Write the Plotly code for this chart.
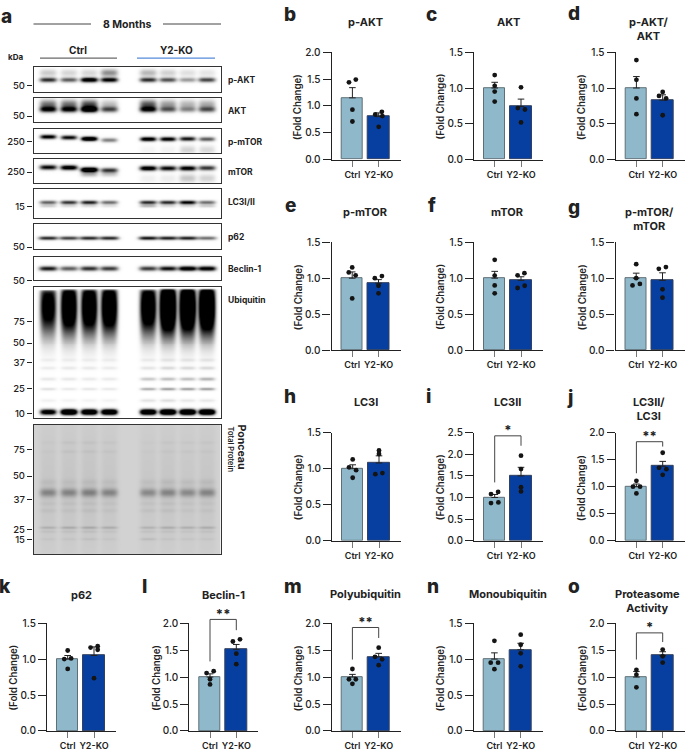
import numpy as np
import plotly.graph_objects as go

W, H = 685, 753
FONT = "Inter"
INK = "#222222"

# ---------- bar chart data ----------
categories = ["Ctrl", "Y2-KO"]
panel_titles = ["p-AKT", "AKT", "p-AKT/<br>AKT", "p-mTOR", "mTOR", "p-mTOR/<br>mTOR", "LC3I", "LC3II",
                "LC3II/<br>LC3I", "p62", "Beclin-1", "Polyubiquitin", "Monoubiquitin", "Proteasome<br>Activity"]
y_max = [2.0, 1.5, 1.5, 1.5, 1.5, 1.5, 1.5, 2.5, 2.0, 1.5, 2.0, 2.0, 1.5, 2.0]
ctrl_mean = [1.15, 1.0, 1.0, 1.0, 1.0, 1.0, 1.0, 1.0, 1.0, 1.0, 1.0, 1.0, 1.0, 1.0]
ko_mean = [0.80, 0.74, 0.83, 0.93, 0.97, 0.97, 1.08, 1.50, 1.38, 1.05, 1.51, 1.375, 1.13, 1.40]
ctrl_sem = [0.19, 0.08, 0.16, 0.087, 0.095, 0.07, 0.055, 0.07, 0.05, 0.05, 0.06, 0.05, 0.087, 0.105]
ko_sem = [0.07, 0.105, 0.075, 0.05, 0.05, 0.105, 0.10, 0.20, 0.09, 0.12, 0.095, 0.065, 0.09, 0.07]
ctrl_points = [[1.44, 1.49, 0.93, 0.71], [1.18, 1.03, 0.95, 0.81], [1.39, 1.115, 0.855, 0.635],
               [1.15, 1.08, 1.04, 0.72], [1.255, 1.036, 0.90, 0.79], [1.195, 1.0, 0.90, 0.92],
               [1.13, 1.02, 0.98, 0.875], [1.08, 1.13, 0.87, 0.885], [1.11, 1.0, 1.0, 0.875],
               [1.12, 1.0, 1.01, 0.863], [1.075, 1.11, 0.96, 0.863], [1.15, 0.96, 0.96, 0.875],
               [1.255, 0.95, 0.95, 0.86], [1.135, 1.045, 0.81]]
ctrl_jitter = [[-.13, .13, 0, 0], [0, 0, 0, 0], [0, 0, 0, 0],
               [0, -.13, .13, 0], [0, 0, 0, 0], [0, 0, -.14, .14],
               [0, -.14, .13, 0], [-.14, .13, -.14, .14], [0, -.13, .14, 0],
               [0, -.13, .13, 0], [-.13, .14, 0, 0], [0, -.13, .13, 0],
               [0, -.14, .14, 0], [0, 0, 0]]
ko_points = [[0.84, 0.89, 0.81, 0.61], [1.01, 0.72, 0.70, 0.52], [0.945, 0.89, 0.855, 0.62],
             [1.0, 1.03, 0.895, 0.79], [1.04, 1.07, 0.864, 0.895], [1.13, 1.155, 0.845, 0.73],
             [1.255, 1.205, 0.925, 0.94], [1.97, 1.66, 1.24, 1.14], [1.63, 1.35, 1.325, 1.22],
             [1.16, 1.18, 1.13, 0.735], [1.66, 1.70, 1.435, 1.24], [1.545, 1.375, 1.33, 1.22],
             [1.34, 1.20, 1.08, 0.90], [1.51, 1.385, 1.27]]
ko_jitter = [[-.13, .12, .14, 0], [0, -.12, .15, 0], [0, -.14, .13, 0],
             [-.14, .13, 0, 0], [-.13, .13, -.13, .14], [-.14, .13, 0, 0],
             [0, 0, -.14, .13], [0, 0, 0, 0], [0, -.14, .14, 0],
             [-.13, .14, .14, 0], [-.13, .14, 0, 0], [0, -.14, .13, 0],
             [0, 0, 0, 0], [0, 0, 0]]
# significance: panel index -> left start, top, right end, star height, label
sig_panel = [7, 8, 10, 11, 13]
sig_left = [1.35, 1.25, 1.29, 1.325, 1.325]
sig_top = [2.43, 1.835, 2.07, 1.92, 1.82]
sig_right = [2.20, 1.745, 1.87, 1.725, 1.65]
sig_star = [2.53, 1.90, 2.13, 1.99, 1.89]
sig_text = ["*", "**", "**", "**", "*"]

# ---------- blot data: band rows (darkness per lane) ----------
blot_names = ["p-AKT", "AKT", "p-mTOR", "mTOR", "LC3I/II", "p62", "Beclin-1", "Ubiquitin", "Ponceau"]
mw_labels = [["50"], ["50"], ["250"], ["250"], ["15"], ["50"], ["50"],
             ["75", "50", "37", "25", "10"], ["75", "50", "37", "25", "15"]]
lanes = [47.3, 68, 88.3, 108.3, 147.3, 167, 186.7, 206]

pakt = [(74, 1.6, [.85, .65, 1.3, 1.1, .85, .7, .4, .75]),
        (67, 2.6, [.2, .16, .16, .45, .28, .18, .12, .1])]
akt = [(104, 2.0, [1.0, 1.0, 1.4, .7, 1.0, .6, .42, .65]),
       (99, 3.2, [.55, .55, .7, .25, .65, .38, .28, .32])]
pmtor = [([132, 132.7, 134, 135.3, 134.3, 134.3, 134, 134.3], 1.5, [1.1, 1.0, 1.5, .5, 1.2, 1.1, .95, .65]),
         (145, 3, [0, 0, 0, 0, .04, .05, .17, .15])]
mtor = [([163, 163.3, 165.5, 166, 164, 164, 164, 163.7], 1.7, [1.0, 1.2, 1.6, .8, 1.2, 1.0, 1.1, .8]),
        (170, 1.8, [0, 0, .3, .2, 0, 0, 0, 0]),
        (174, 3, [0, 0, 0, 0, .06, .07, .22, .17])]
lc3 = [(198.7, 1.3, [.65, .85, .95, .6, .9, .9, 1.1, .6]),
       (202.3, 1.0, [.2, .15, .15, .12, .3, .15, .15, .2])]
p62 = [(235, 1.2, [.9, .8, .9, .9, 1.0, .95, .95, .6])]
beclin = [(266, 1.6, [.95, .65, .85, .8, .8, 1.0, 1.3, 1.2])]
ubi = [(305, 19, [1.25, 1.6, 1.55, 1.6, 1.5, 2.1, 2.0, 2.0]),
       (283, 2.5, [-4, -3, -3, -3, -3, -3, -3, -3]),
       (359, 1.2, [.05, .05, .05, .05, .06, .08, .08, .08]),
       (367, 1.2, [.07, .08, .08, .07, .1, .14, .14, .14]),
       (378, 1.2, [.09, .09, .08, .08, .22, .25, .25, .3]),
       (388, 1.0, [.12, .09, .1, .09, .32, .38, .38, .38]),
       (400, 1.5, [.06, .05, .05, .05, .12, .14, .1, .1]),
       (412, 1.9, [1.3, 2.0, 1.8, 1.8, 1.8, 2.0, 2.0, 2.0])]
ponceau = [(494, 3.0, [.8, .8, .85, .8, .75, .8, .75, .8]),
           (490, 50, [.14, .15, .16, .14, .12, .14, .12, .14]),
           (443, 1.2, [.04, .09, .09, .07, .03, .06, .06, .06]),
           (452, 1.2, [.04, .09, .09, .07, .03, .06, .06, .06]),
           (483, 2.5, [.14, .12, .14, .12, .12, .16, .14, .16]),
           (505, 1.5, [.09, .09, .1, .08, .09, .1, .08, .08]),
           (512, 1.5, [.1, .09, .11, .08, .1, .11, .08, .08]),
           (529, 1.0, [.3, .36, .38, .34, .28, .34, .32, .34]),
           (533, 1.0, [.12, .12, .14, .1, .12, .12, .1, .12]),
           (541, 1.2, [.1, .11, .16, .1, .24, .12, .11, .1])]


def px(x):
    return x / W


def py(y):
    return 1 - y / H


fig = go.Figure()
layout = {}
ann = []


def text(x, y, s, size=9.5, weight=600, angle=0, color=INK, anchor="center"):
    ann.append(dict(x=px(x), y=py(y), xref="paper", yref="paper", text=s, showarrow=False, textangle=angle,
                    xanchor=anchor, yanchor="middle", align="center",
                    font=dict(family=FONT, size=size, color=color, weight=weight)))


def line(x0, x1, y, color, width=1):
    layout.setdefault("shapes", []).append(dict(type="line", xref="paper", yref="paper", x0=px(x0), x1=px(x1),
                                                y0=py(y), y1=py(y), line=dict(color=color, width=width)))


axis_no = 0


def new_axes():
    global axis_no
    axis_no += 1
    s = "" if axis_no == 1 else str(axis_no)
    return "x" + s, "y" + s, "xaxis" + s, "yaxis" + s


# ---------- bar panels ----------
panel_x = [331.7, 474, 615.7, 331.5, 474, 615.5, 332, 474, 615.7, 47, 189.3, 331.7, 473.7, 615.7]
panel_top = [46, 46, 46, 239.3, 239.3, 239.3, 433.3, 433.3, 433.3, 627, 627, 627, 627, 627]
panel_bot = [155.3, 155.3, 155.3, 349.3, 349.3, 349.3, 543, 543, 543, 736.7, 736.7, 736.7, 736.7, 736.7]
title_x = [365, 508, 649, 365, 507, 649, 366, 507, 649, 81, 223, 365, 507.7, 647]
title_y = [15, 15, 22, 208.7, 208.7, 216, 402, 402, 409.5, 598, 598, 597, 597, 604]
panel_w = 69
step = 26.3
head = 25
for i, t in enumerate(panel_titles):
    xr, yr, xk, yk = new_axes()
    x0 = panel_x[i]
    left = -20.7 / step
    right = left + panel_w / step
    fig.add_trace(go.Bar(x=[0, 1], y=[ctrl_mean[i], ko_mean[i]], width=0.81, xaxis=xr, yaxis=yr,
                         marker=dict(color=["#8fb9cb", "#073fa0"],
                                     line=dict(color=["#5f6f76", "#33415e"], width=1)),
                         error_y=dict(type="data", symmetric=False, array=[ctrl_sem[i], ko_sem[i]],
                                      arrayminus=[0, 0], color="#222222", thickness=1, width=3.3),
                         showlegend=False))
    xs = [j for j in ctrl_jitter[i]] + [1 + j for j in ko_jitter[i]]
    ys = ctrl_points[i] + ko_points[i]
    fig.add_trace(go.Scatter(x=xs, y=ys, mode="markers", xaxis=xr, yaxis=yr, showlegend=False, cliponaxis=False,
                             marker=dict(color="#141414", size=4.8)))
    layout[xk] = dict(domain=[px(x0), px(x0 + panel_w)], range=[left, right], anchor=yr, showgrid=False,
                      zeroline=False, showline=True, linecolor=INK, linewidth=1.3, ticks="outside", ticklen=6,
                      tickwidth=1, tickcolor="#777777", tickvals=[0, 1], ticktext=categories,
                      tickfont=dict(family=FONT, size=9, color=INK, weight=600))
    layout[yk] = dict(domain=[py(panel_bot[i]), py(panel_top[i])], range=[0, y_max[i]], anchor=xr, showgrid=False,
                      zeroline=False, showline=True, linecolor=INK, linewidth=1.3, ticks="outside", ticklen=8,
                      tickwidth=1.2, tickcolor=INK, dtick=0.5, tickformat=".1f",
                      tickfont=dict(family=FONT, size=10, color=INK, weight=500))
    text(x0 - 33.5, (panel_top[i] + panel_bot[i]) / 2 + 1, "(Fold Change)", size=9.7, weight=600, angle=-90)
    text(title_x[i], title_y[i], t, size=11, weight=700)
    if i in sig_panel:
        k = sig_panel.index(i)
        # invisible taller axis pair with the same scale, so the bracket may rise above the bar axis
        xr2, yr2, xk2, yk2 = new_axes()
        span = panel_bot[i] - panel_top[i]
        layout[xk2] = dict(domain=[px(x0), px(x0 + panel_w)], range=[left, right], anchor=yr2, visible=False)
        layout[yk2] = dict(domain=[py(panel_bot[i]), py(panel_top[i] - head)],
                           range=[0, y_max[i] * (span + head) / span], anchor=xr2, visible=False)
        fig.add_trace(go.Scatter(x=[0, 0, 1, 1], y=[sig_left[k], sig_top[k], sig_top[k], sig_right[k]], mode="lines",
                                 xaxis=xr2, yaxis=yr2, showlegend=False,
                                 line=dict(color="#444444", width=1)))
        fig.add_trace(go.Scatter(x=[0.5], y=[sig_star[k]], mode="text", text=[sig_text[k]], xaxis=xr2, yaxis=yr2,
                                 showlegend=False,
                                 textfont=dict(family=FONT, size=13, color=INK, weight=700)))

# ---------- western blots ----------
blot_top = [61.3, 92.3, 124, 154.7, 185.7, 221.3, 254, 285, 425.3]
blot_bot = [86, 116.7, 148.7, 179.3, 215, 246, 278, 418.7, 556.7]
blot_bands = [pakt, akt, pmtor, mtor, lc3, p62, beclin, ubi, ponceau]
lane_half = [8.5, 8.5, 8, 8.5, 8.5, 9.5, 9, 8, 8.5]
mw_pos = [[80], [111], [137], [168], [203], [244.3], [278],
          [320, 342, 362, 388.3, 413.7], [450.3, 477.3, 501, 532, 542]]
blot_x0, blot_x1 = 33.5, 220.7
gray = [[0, "#ffffff"], [1, "#000000"]]
pon = [[0, "#d2d2d2"], [1, "#7d7d7d"]]
for b, bands in enumerate(blot_bands):
    xr, yr, xk, yk = new_axes()
    gx = np.arange(blot_x0, blot_x1, 1.0) + 0.5
    gy = np.arange(blot_top[b], blot_bot[b], 1.0) + 0.5
    z = np.zeros((gy.size, gx.size))
    for yc, sd, strengths in bands:
        ycs = yc if isinstance(yc, list) else [yc] * 8
        for lane, s, ly in zip(lanes, strengths, ycs):
            across = np.exp(-((gx - lane) / lane_half[b]) ** 4)
            down = np.exp(-((gy - ly) ** 2) / (2 * sd ** 2))
            z += s * np.outer(down, across)
    z = np.round(np.clip(z, 0, 1), 3)
    fig.add_trace(go.Heatmap(x=gx, y=gy, z=z, xaxis=xr, yaxis=yr, zmin=0, zmax=1, showscale=False,
                             colorscale=pon if b == 8 else gray, zsmooth="best", hoverinfo="skip"))
    layout[xk] = dict(domain=[px(blot_x0), px(blot_x1)], range=[blot_x0, blot_x1], anchor=yr, showgrid=False,
                      zeroline=False, showline=True, mirror=True, linecolor="#333333", linewidth=1.2,
                      showticklabels=False, ticks="")
    layout[yk] = dict(domain=[py(blot_bot[b]), py(blot_top[b])], range=[blot_bot[b], blot_top[b]], anchor=xr,
                      showgrid=False, zeroline=False, showline=True, mirror=True, linecolor="#333333", linewidth=1.2,
                      ticks="outside", ticklen=5.5, tickwidth=1, tickcolor=INK, tickvals=mw_pos[b],
                      ticktext=mw_labels[b], tickfont=dict(family=FONT, size=9.5, color=INK, weight=500))

label_y = [74, 105.7, 137, 168.3, 198, 234, 266.7, 298]
for name, y in zip(blot_names[:8], label_y):
    text(225.7, y, name, size=8.5, weight=700, anchor="left")
text(241.7, 448, "Ponceau", size=10.5, weight=700, angle=90)
text(230.7, 450, "Total Protein", size=7.5, weight=600, angle=90)

text(127, 18, "8 Months", size=10.5, weight=700)
line(33.5, 91, 17.3, "#444444")
line(163, 221, 17.3, "#444444")
text(78, 44, "Ctrl", size=10, weight=700)
text(176, 44, "Y2-KO", size=10, weight=700)
line(40, 117, 52, "#444444")
line(137, 215, 52, "#2a6fd0")
text(16, 51, "kDa", size=8, weight=700)

# panel letters
letters = list("abcdefghijklmno")
lx = [6, 290, 431.5, 574, 290, 431.5, 574, 290, 428, 570, 5, 144, 293, 433, 574]
ly = [10, 8, 8, 7, 202, 202, 204, 396, 396, 397, 590, 590, 590, 590, 590]
for c, x, y in zip(letters, lx, ly):
    text(x, y, c, size=19, weight=800)

fig.update_layout(width=W, height=H, margin=dict(l=0, r=0, t=0, b=0), paper_bgcolor="rgba(0,0,0,0)",
                  plot_bgcolor="rgba(0,0,0,0)", showlegend=False, annotations=ann, bargap=0, **layout)
fig.write_html("out.html", post_script="document.body.style.margin='0';", config={"displayModeBar": False})
